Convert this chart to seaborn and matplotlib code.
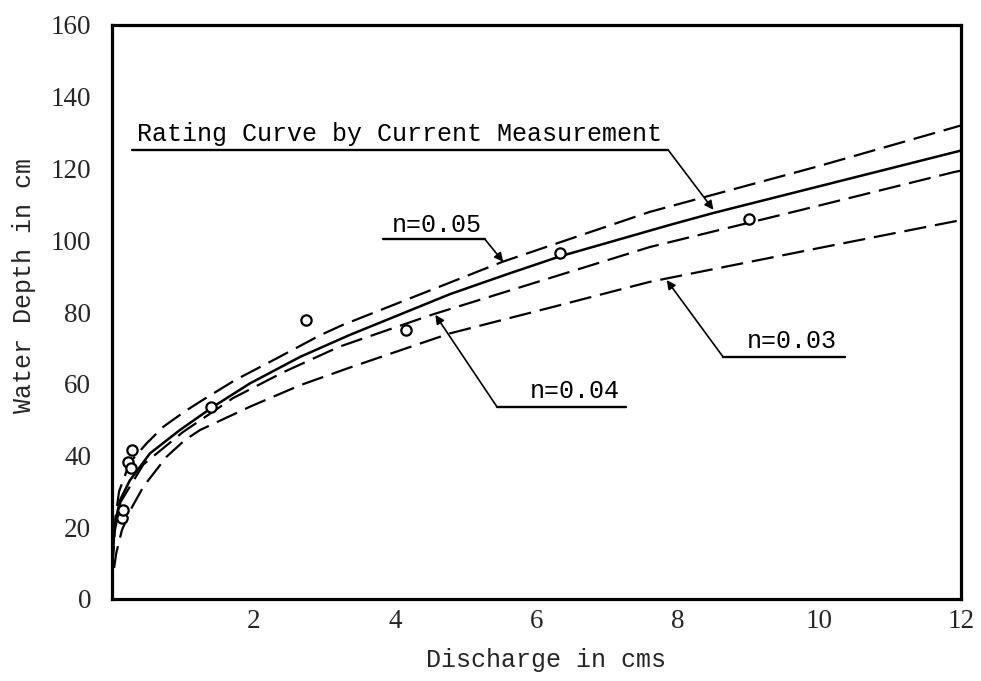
import matplotlib
matplotlib.use("Agg")
import matplotlib.pyplot as plt
from matplotlib.lines import Line2D
import pandas as pd
import seaborn as sns

# ---- data: discharge (cms) and water depth (cm) ----
obs_q = [0.137, 0.16, 0.23, 0.27, 0.278, 1.40, 2.74, 4.15, 6.33, 9.01]
obs_h = [22.5, 24.8, 38.3, 36.4, 41.5, 53.6, 77.7, 74.9, 96.5, 106.0]

rating_q = [0.0, 0.005, 0.04, 0.113, 0.25, 0.537, 0.96, 1.43, 1.95, 2.66,
            3.36, 4.78, 5.58, 6.33, 7.89, 8.5, 10.43, 12.0]
rating_h = [0.0, 10.0, 21.0, 27.5, 33.0, 40.6, 47.1, 53.6, 60.1, 67.5,
            73.6, 85.0, 90.5, 95.5, 104.3, 107.6, 117.2, 125.0]

n05_q = [0.0, 0.005, 0.03, 0.1, 0.25, 0.49, 0.725, 1.03, 1.244, 1.738,
         2.33, 2.94, 3.25, 5.52, 7.6, 9.96, 12.0]
n05_h = [0.0, 10.0, 20.0, 30.0, 38.0, 43.4, 48.0, 52.3, 55.0, 61.0,
         67.1, 73.5, 76.3, 94.0, 107.9, 120.5, 132.0]

n04_q = [0.0, 0.005, 0.04, 0.12, 0.443, 1.0, 1.71, 2.42, 3.21, 4.53,
         7.6, 9.96, 11.9, 12.0]
n04_h = [0.0, 9.0, 19.0, 27.0, 37.5, 46.5, 56.0, 63.2, 70.3, 79.3,
         98.1, 109.5, 119.0, 119.4]

n03_q = [0.0, 0.01, 0.06, 0.14, 0.28, 0.443, 0.773, 1.03, 1.244, 1.95,
         2.66, 3.36, 4.77, 6.23, 7.6, 9.96, 11.84, 12.0]
n03_h = [0.0, 6.0, 12.8, 19.2, 25.5, 31.3, 39.7, 44.3, 47.1, 53.6,
         59.6, 64.5, 74.0, 81.4, 88.4, 97.7, 105.0, 105.6]

x_ticks = [2, 4, 6, 8, 10, 12]
y_ticks = [0, 20, 40, 60, 80, 100, 120, 140, 160]

rating_label = "Rating Curve by Current Measurement"
n_labels = ["n=0.05", "n=0.04", "n=0.03"]

# ---- style ----
sns.set_theme(style="white")
mono = ["Liberation Mono", "DejaVu Sans Mono"]
serif = ["Liberation Serif", "DejaVu Serif"]
plt.rcParams["font.family"] = mono

fig = plt.figure(figsize=(9.81, 6.81), dpi=100)
ax = fig.add_axes([112 / 981, 82 / 681, 849 / 981, 574 / 681])

line_kw = dict(color="black", estimator=None, legend=False)
dash = (10, 4)
sns.lineplot(x=n05_q, y=n05_h, ax=ax, lw=1.6, **line_kw)
sns.lineplot(x=n04_q, y=n04_h, ax=ax, lw=1.6, **line_kw)
sns.lineplot(x=n03_q, y=n03_h, ax=ax, lw=1.6, **line_kw)
for ln in ax.lines:
    ln.set_dashes(dash)
sns.lineplot(x=rating_q, y=rating_h, ax=ax, lw=1.8, **line_kw)

obs = pd.DataFrame({"q": obs_q, "h": obs_h})
sns.scatterplot(data=obs, x="q", y="h", ax=ax, s=55, marker="o",
                facecolor="white", edgecolor="black", linewidth=1.6,
                zorder=5, legend=False)

ax.set_xlim(0, 12)
ax.set_ylim(0, 160)
ax.set_xticks(x_ticks)
ax.set_yticks(y_ticks)
ax.set_xticklabels([str(t) for t in x_ticks], fontfamily=serif, fontsize=19.5)
ax.set_yticklabels([str(t) for t in y_ticks], fontfamily=serif, fontsize=19.5)
ax.tick_params(axis="both", length=0)
ax.tick_params(axis="x", pad=7)
ax.tick_params(axis="y", pad=15)

for sp in ax.spines.values():
    sp.set_visible(True)
    sp.set_color("black")
    sp.set_linewidth(2.3)

ax.set_xlabel("Discharge in cms", fontsize=18)
ax.set_ylabel("Water Depth in cm", fontsize=18)
ax.xaxis.set_label_coords(0.511, -0.085)
ax.yaxis.set_label_coords(-0.09, 0.547)

# ---- labelled leaders: text, underline, arrow to curve ----
arrow = dict(arrowstyle="-|>", mutation_scale=13, lw=1.2, color="black",
             shrinkA=0, shrinkB=0)
callouts = [
    # text, text (x, baseline), underline (x0, x1, y), leader start, arrow tip
    (rating_label, (0.35, 127.8), (0.28, 7.86, 125.2), (7.86, 125.2), (8.50, 108.5)),
    (n_labels[0], (3.95, 102.4), (3.83, 5.27, 100.3), (5.27, 100.3), (5.53, 94.0)),
    (n_labels[1], (5.91, 55.9), (5.44, 7.27, 53.6), (5.44, 53.6), (4.57, 79.2)),
    (n_labels[2], (8.97, 69.9), (8.64, 10.36, 67.4), (8.64, 67.4), (7.84, 88.9)),
]
for text, (tx, ty), (ux0, ux1, uy), start, tip in callouts:
    ax.text(tx, ty, text, fontsize=18, va="baseline", ha="left", color="black")
    ax.add_line(Line2D([ux0, ux1], [uy, uy], color="black", lw=1.7))
    ax.annotate("", xy=tip, xytext=start, arrowprops=arrow)

fig.savefig("out.png", dpi=100)
